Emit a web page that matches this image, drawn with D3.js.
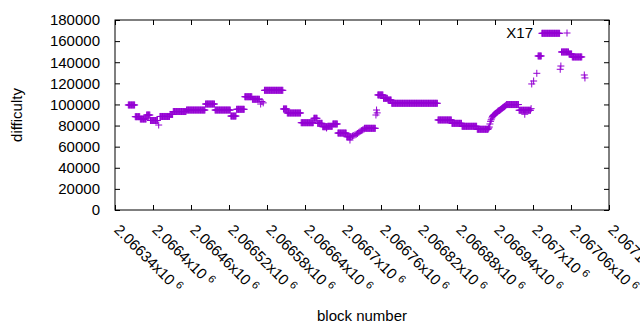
<!DOCTYPE html>
<html>
<head>
<meta charset="utf-8">
<script src="https://cdn.jsdelivr.net/npm/d3@7"></script>
<style>
  body { margin: 0; background: #fff; }
  text { font-family: "Liberation Sans", Arial, sans-serif; font-size: 15px; fill: #000; }
</style>
</head>
<body>
<svg id="chart" width="640" height="330"></svg>
<script>
// block numbers are stored as offsets from the first x tick
const firstBlock = 2066340

const blockOffset = [
  21,22,23,24,25,26,27,28,29,30,31,
  32,33,34,35,36,37,38,39,
  40,41,42,43,44,45,46,47,48,49,
  50,51,52,53,54,55,
  56,57,58,59,60,61,62,63,64,65,66,67,69,
  71,72,73,74,75,76,77,78,79,80,81,82,83,84,85,86,
  87,88,89,90,91,
  92,93,94,95,96,97,98,99,100,101,102,103,104,105,106,107,108,109,110,111,112,
  113,114,115,116,117,118,119,120,121,122,123,124,125,126,127,128,129,130,131,132,133,134,135,136,137,138,139,140,141,142,
  143,144,145,146,147,148,149,150,151,152,153,154,155,156,157,
  158,159,160,161,162,163,164,165,166,167,168,169,170,171,172,173,174,175,176,177,178,179,180,181,182,
  183,184,185,186,187,188,189,190,191,
  192,193,194,195,196,197,198,199,200,201,202,203,204,
  205,206,207,208,209,210,211,212,213,214,215,216,
  217,218,219,220,221,222,223,224,225,226,227,228,230,232,234,
  236,237,238,239,240,241,242,243,244,245,246,247,248,249,250,251,252,253,254,255,256,257,258,259,260,261,262,263,264,265,
  266,267,268,269,270,271,
  272,273,274,275,276,277,278,279,280,281,282,283,284,285,286,287,288,289,290,291,292,293,
  294,295,296,297,298,299,300,301,302,303,304,305,306,307,308,309,310,311,312,313,
  314,315,316,317,318,319,
  320,321,322,323,324,325,326,327,
  328,329,330,331,332,333,334,334,335,
  336,337,338,339,340,341,342,343,
  344,345,346,347,348,349,350,351,
  352,353,354,355,356,357,358,359,360,361,362,363,364,365,
  366,367,368,369,370,371,371,372,373,
  375,377,379,381,383,385,387,389,391,393,
  394,395,396,397,398,399,400,401,402,403,404,405,406,407,408,409,410,411,
  412,413,414,
  415,416,417,418,419,420,421,422,423,
  424,425,426,427,428,429,430,
  431,432,433,434,435,436,
  437,438,439,440,441,442,443,444,445,446,
  447,448,449,450,451,452,453,454,455,456,
  457,458,459,460,461,462,463,464,465,466,
  467,468,469,470,471,472,473,474,475,476,
  477,478,479,480,481,482,483,484,485,486,
  487,488,489,490,491,492,493,494,495,496,
  497,498,499,500,501,502,503,504,505,506,
  507,508,509,
  510,511,512,513,514,515,516,517,518,519,520,521,522,523,524,525,526,527,528,529,530,531,
  532,533,534,535,536,537,538,539,540,541,542,543,544,545,546,547,
  548,549,550,551,552,553,554,555,556,557,558,559,560,561,562,563,564,565,566,567,568,569,570,571,
  572,573,574,575,576,577,578,579,580,581,582,583,584,585,586,587,588,589,
  590,591,592,593,594,595,596,597,598,599,600,601,602,603,604,605,606,607,608,609,610,611,612,613,614,615,616,617,
  618,619,620,621,622,623,624,625,626,627,628,629,630,631,632,633,634,635,636,637,
  638,639,640,641,642,643,644,645,646,647,648,649,650,651,652,653,654,655,656,647,
  657,658,661,666,
  668,669,670,671,672,673,
  674,675,676,677,678,679,680,681,682,683,684,685,686,687,688,689,690,691,692,693,694,695,696,697,698,699,700,701,702,
  703,704,
  705,706,707,708,709,710,711,712,713,714,715,716,
  717,718,719,720,721,
  722,723,724,725,726,727,728,729,730,731,732,733,734,735,736,737,
  741,742
]

const difficulty = [
  99500,99500,99500,99500,99500,99500,99500,99500,99500,99500,99500,
  88400,88400,88400,88400,88400,88400,88400,88400,
  86200,86200,86200,86200,86200,86200,86200,86200,86200,86200,
  90000,90000,90000,90000,90000,90000,
  84800,84800,84800,84800,84800,84800,84800,84800,84800,84800,84800,84800,80500,
  88600,88600,88600,88600,88600,88600,88600,88600,88600,88600,88600,88600,88600,88600,88600,88600,
  90500,90500,90500,90500,90500,
  93300,93300,93300,93300,93300,93300,93300,93300,93300,93300,93300,93300,93300,93300,93300,93300,93300,93300,93300,93300,93300,
  94700,94700,94700,94700,94700,94700,94700,94700,94700,94700,94700,94700,94700,94700,94700,94700,94700,94700,94700,94700,94700,94700,94700,94700,94700,94700,94700,94700,94700,94700,
  100400,100400,100400,100400,100400,100400,100400,100400,100400,100400,100400,100400,100400,100400,100400,
  94700,94700,94700,94700,94700,94700,94700,94700,94700,94700,94700,94700,94700,94700,94700,94700,94700,94700,94700,94700,94700,94700,94700,94700,94700,
  89000,89000,89000,89000,89000,89000,89000,89000,89000,
  95400,95400,95400,95400,95400,95400,95400,95400,95400,95400,95400,95400,95400,
  107300,107300,107300,107300,107300,107300,107300,107300,107300,107300,107300,107300,
  104900,104900,104900,104900,104900,104900,104900,104900,104900,104900,104900,104900,100400,102800,101500,
  113400,113400,113400,113400,113400,113400,113400,113400,113400,113400,113400,113400,113400,113400,113400,113400,113400,113400,113400,113400,113400,113400,113400,113400,113400,113400,113400,113400,113400,113400,
  95700,95700,95700,95700,95700,95700,
  91900,91900,91900,91900,91900,91900,91900,91900,91900,91900,91900,91900,91900,91900,91900,91900,91900,91900,91900,91900,91900,91900,
  82700,82700,82700,82700,82700,82700,82700,82700,82700,82700,82700,82700,82700,82700,82700,82700,82700,82700,82700,82700,
  86900,86900,86900,86900,86900,86900,
  82100,82100,82100,82100,82100,82100,82100,82100,
  78900,78900,78900,78900,78900,78900,78900,77700,78900,
  79300,79300,79300,79300,79300,79300,79300,79300,
  81500,81500,81500,81500,81500,81500,81500,81500,
  72900,72900,72900,72900,72900,72900,72900,72900,72900,72900,72900,72900,72900,72900,
  69400,69400,69400,69400,69400,69400,66300,69400,69400,
  70000,70600,71200,71800,72500,73500,74500,75200,75800,76500,
  77400,77400,77400,77400,77400,77400,77400,77400,77400,77400,77400,77400,77400,77400,77400,77400,77400,77400,
  90000,94700,92000,
  109000,109000,109000,109000,109000,109000,109000,109000,109000,
  105800,105800,105800,105800,105800,105800,105800,
  104200,104200,104200,104200,104200,104200,
  101100,101100,101100,101100,101100,101100,101100,101100,101100,101100,
  101100,101100,101100,101100,101100,101100,101100,101100,101100,101100,
  101100,101100,101100,101100,101100,101100,101100,101100,101100,101100,
  101100,101100,101100,101100,101100,101100,101100,101100,101100,101100,
  101100,101100,101100,101100,101100,101100,101100,101100,101100,101100,
  101100,101100,101100,101100,101100,101100,101100,101100,101100,101100,
  101100,101100,101100,101100,101100,101100,101100,101100,101100,101100,
  101100,101100,101100,
  85300,85300,85300,85300,85300,85300,85300,85300,85300,85300,85300,85300,85300,85300,85300,85300,85300,85300,85300,85300,85300,85300,
  82100,82100,82100,82100,82100,82100,82100,82100,82100,82100,82100,82100,82100,82100,82100,82100,
  79300,79300,79300,79300,79300,79300,79300,79300,79300,79300,79300,79300,79300,79300,79300,79300,79300,79300,79300,79300,79300,79300,79300,79300,
  76500,76500,76500,76500,76500,76500,76500,76500,76500,76500,76500,76500,76500,76500,76500,76500,76500,76500,
  77500,78600,81500,84000,85500,87200,88500,89500,90000,90500,91000,91500,91900,92500,93000,93800,94000,94300,94700,95200,95800,96200,96700,97200,97600,98000,98500,99000,
  99900,99900,99900,99900,99900,99900,99900,99900,99900,99900,99900,99900,99900,99900,99900,99900,99900,99900,99900,99900,
  94500,94500,94500,94500,94500,94500,94500,94500,94500,94500,94500,94500,94500,94500,94500,94500,94500,94500,94500,90700,
  96000,119400,122200,129500,
  145900,145900,145900,145900,145900,145900,
  167400,167400,167400,167400,167400,167400,167400,167400,167400,167400,167400,167400,167400,167400,167400,167400,167400,167400,167400,167400,167400,167400,167400,167400,167400,167400,167400,167400,167400,
  133300,136400,
  149700,149700,149700,149700,149700,149700,149700,149700,149700,149700,149700,149700,
  147800,147800,147800,147800,147800,
  145000,145000,145000,145000,145000,145000,145000,145000,145000,145000,145000,145000,145000,145000,145000,145000,
  127900,125100
]

const xTicks = [2066340, 2066400, 2066460, 2066520, 2066580, 2066640, 2066700,
                2066760, 2066820, 2066880, 2066940, 2067000, 2067060, 2067120]
const xTickMantissa = ["2.06634", "2.0664", "2.06646", "2.06652", "2.06658", "2.06664", "2.0667",
                       "2.06676", "2.06682", "2.06688", "2.06694", "2.067", "2.06706", "2.06712"]
const yTicks = [0, 20000, 40000, 60000, 80000, 100000, 120000, 140000, 160000, 180000]
const seriesName = "X17"

if (blockOffset.length !== difficulty.length) console.warn("length mismatch", blockOffset.length, difficulty.length)

const margin = {left: 115, top: 20, right: 31, bottom: 120}
const width = 640 - margin.left - margin.right
const height = 330 - margin.top - margin.bottom
const color = "#9400d3"

const svg = d3.select("#chart")

const xScale = d3.scaleLinear()
    .domain([xTicks[0], xTicks[xTicks.length - 1]])
    .range([margin.left, margin.left + width])
const yScale = d3.scaleLinear()
    .domain([0, 180000])
    .range([margin.top + height, margin.top])

// ticks point inward, mirrored on top and right like gnuplot
svg.append("g")
    .attr("transform", "translate(" + margin.left + ",0)")
    .call(d3.axisLeft(yScale).tickValues(yTicks).tickSize(-5).tickPadding(15).tickFormat(d => d))
svg.append("g")
    .attr("transform", "translate(" + (margin.left + width) + ",0)")
    .call(d3.axisRight(yScale).tickValues(yTicks).tickSize(-5).tickFormat(""))
svg.append("g")
    .attr("transform", "translate(0," + (margin.top + height) + ")")
    .call(d3.axisBottom(xScale).tickValues(xTicks).tickSize(-5).tickFormat(""))
svg.append("g")
    .attr("transform", "translate(0," + margin.top + ")")
    .call(d3.axisTop(xScale).tickValues(xTicks).tickSize(-5).tickFormat(""))

svg.selectAll(".domain").remove()
svg.selectAll(".tick line").attr("stroke", "#000")
svg.selectAll(".tick text")
    .style("font-family", '"Liberation Sans", Arial, sans-serif')
    .style("font-size", "15px")
    .attr("fill", "#000")

svg.append("rect")
    .attr("x", margin.left)
    .attr("y", margin.top)
    .attr("width", width)
    .attr("height", height)
    .attr("fill", "none")
    .attr("stroke", "#000")

// rotated x labels with a raised exponent
const xLab = svg.selectAll(".xlab")
    .data(xTicks)
    .enter()
    .append("text")
    .attr("class", "xlab")
    .attr("transform", d => "translate(" + (xScale(d) + 2) + "," + (margin.top + height + 17) + ") rotate(45)")
    .attr("dy", "0.35em")
xLab.append("tspan").text((d, i) => xTickMantissa[i] + "x10")
xLab.append("tspan").attr("dx", 4).attr("dy", -5).style("font-size", "11px").text("6")

svg.append("text")
    .attr("transform", "translate(22," + (margin.top + height / 2) + ") rotate(-90)")
    .attr("text-anchor", "middle")
    .text("difficulty")

svg.append("text")
    .attr("x", margin.left + width / 2)
    .attr("y", 321)
    .attr("text-anchor", "middle")
    .text("block number")

const plus = "M-3.5,0H3.5M0,-3.5V3.5"

svg.append("g")
    .selectAll("path")
    .data(blockOffset)
    .enter()
    .append("path")
    .attr("d", plus)
    .attr("transform", (d, i) => "translate(" + xScale(firstBlock + d) + "," + yScale(difficulty[i]) + ")")
    .attr("fill", "none")
    .attr("stroke", color)
    .attr("stroke-width", 1)

// key
svg.append("text")
    .attr("x", 533)
    .attr("y", 33)
    .attr("dy", "0.35em")
    .attr("text-anchor", "end")
    .text(seriesName)
svg.append("path")
    .attr("d", plus)
    .attr("transform", "translate(567,33)")
    .attr("fill", "none")
    .attr("stroke", color)
    .attr("stroke-width", 1)
</script>
</body>
</html>
